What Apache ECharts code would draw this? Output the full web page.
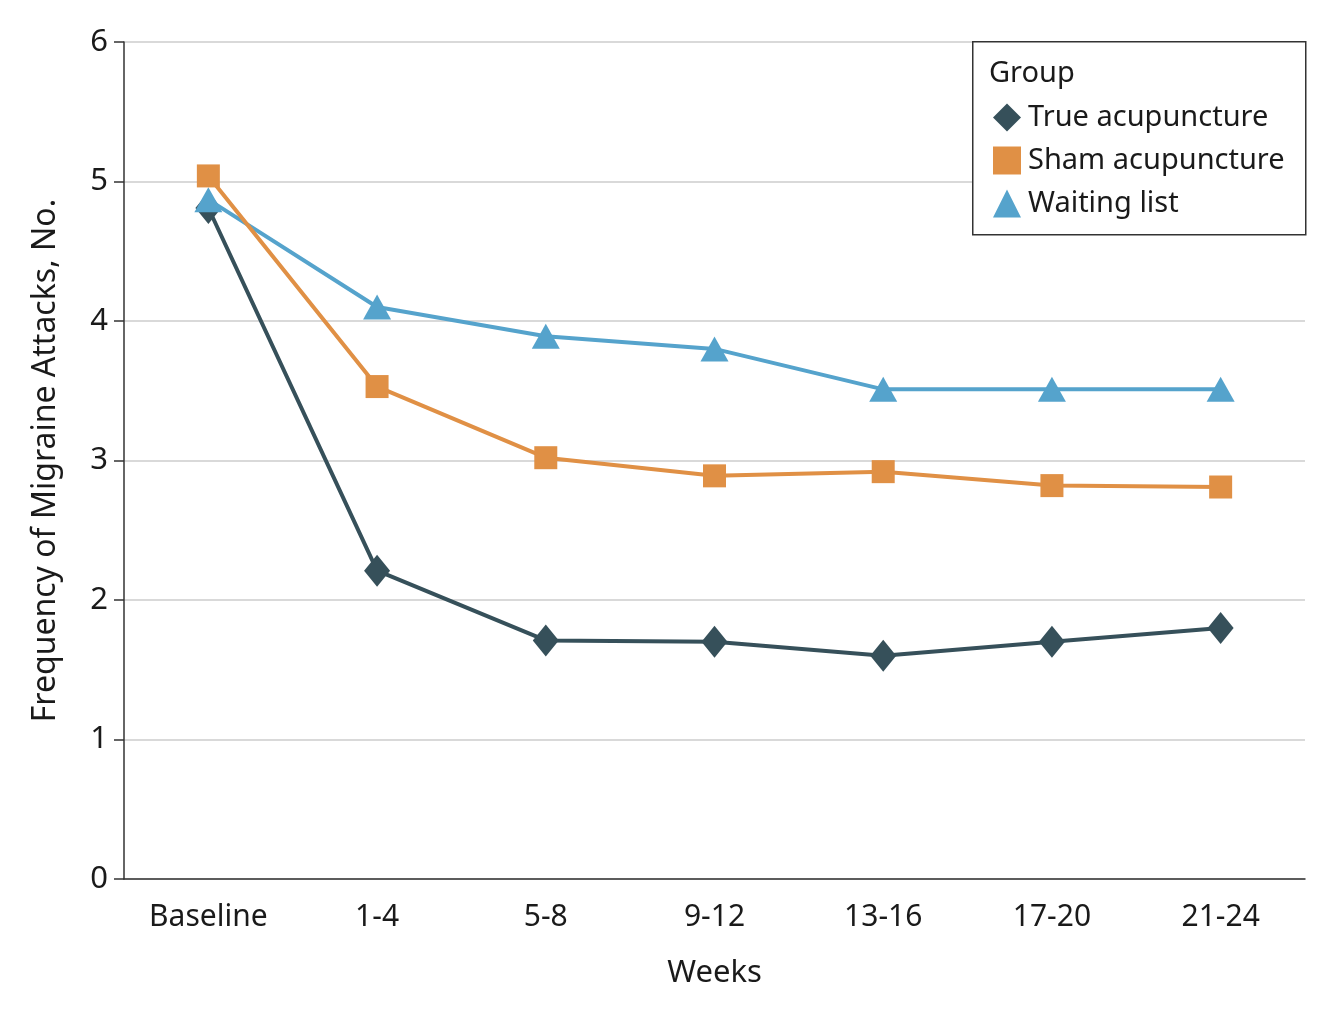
<!DOCTYPE html>
<html><head><meta charset="utf-8">
<script src="https://cdn.jsdelivr.net/npm/echarts@6/dist/echarts.min.js"></script>
<style>html,body{margin:0;padding:0;background:#fff}#c{width:1334px;height:1030px}</style>
</head><body><div id="c"></div>
<script>
const categories = ['Baseline','1-4','5-8','9-12','13-16','17-20','21-24'];
const trueAcu = [4.81, 2.21, 1.71, 1.70, 1.60, 1.70, 1.80];
const shamAcu = [5.04, 3.53, 3.02, 2.89, 2.92, 2.82, 2.81];
const waiting = [4.87, 4.10, 3.89, 3.80, 3.51, 3.51, 3.51];
const yTicks = [0,1,2,3,4,5,6];

const FONT = '"Noto Sans", sans-serif';
const chart = echarts.init(document.getElementById('c'));
chart.setOption({
  animation:false,
  grid:{left:124,right:29,top:42,bottom:151,containLabel:false},
  xAxis:{type:'category',data:categories,boundaryGap:true,
    name:'Weeks',nameLocation:'middle',nameGap:79,
    nameTextStyle:{fontFamily:FONT,fontSize:31,color:'#1a1a1a'},
    axisLine:{lineStyle:{color:'#333',width:1.5}},
    axisTick:{alignWithLabel:true,length:10,lineStyle:{color:'#333',width:1.5}},
    axisLabel:{fontFamily:FONT,fontSize:30,color:'#1a1a1a',margin:23},
    splitLine:{show:false}},
  yAxis:{type:'value',min:0,max:6,interval:1,
    name:'Frequency of Migraine Attacks, No.',nameLocation:'middle',nameGap:62,
    nameTextStyle:{fontFamily:FONT,fontSize:32,color:'#1a1a1a'},
    axisLine:{show:true,lineStyle:{color:'#333',width:1.5}},
    axisTick:{show:true,length:10,lineStyle:{color:'#333',width:1.5}},
    axisLabel:{fontFamily:FONT,fontSize:31,color:'#1a1a1a',margin:16,
      formatter:v=>yTicks.includes(v)?String(v):''},
    splitLine:{lineStyle:{color:'#d9d9d9',width:2}}},
  legend:{left:988,top:98,orient:'vertical',itemWidth:28,itemHeight:28,itemGap:14,z:20,
    itemStyle:{borderWidth:0},
    textStyle:{fontFamily:FONT,fontSize:29,color:'#1a1a1a',padding:[0,0,0,2]},
    data:[
      {name:'True acupuncture',icon:'diamond'},
      {name:'Sham acupuncture',icon:'path://M2,2L26,2L26,26L2,26Z'},
      {name:'Waiting list',icon:'triangle'}]},
  graphic:{z:15,elements:[
    {type:'rect',left:972,top:41,z:15,shape:{width:333,height:193},
      style:{fill:'#fff',stroke:'#333',lineWidth:1.5}},
    {type:'text',left:989,top:59,z:16,style:{text:'Group',font:'29px "Noto Sans", sans-serif',fill:'#1a1a1a'}}
  ]},
  series:[
    {name:'True acupuncture',type:'line',data:trueAcu,z:2,
      symbol:'diamond',symbolSize:[26,32],
      lineStyle:{color:'#36505a',width:4},itemStyle:{color:'#36505a'}},
    {name:'Sham acupuncture',type:'line',data:shamAcu,z:4,
      symbol:'rect',symbolSize:23,
      lineStyle:{color:'#e09045',width:4},itemStyle:{color:'#e09045'}},
    {name:'Waiting list',type:'line',data:waiting,z:3,
      symbol:'triangle',symbolSize:[28,25],
      lineStyle:{color:'#55a3cc',width:4},itemStyle:{color:'#55a3cc'}}
  ]
});
</script></body></html>
